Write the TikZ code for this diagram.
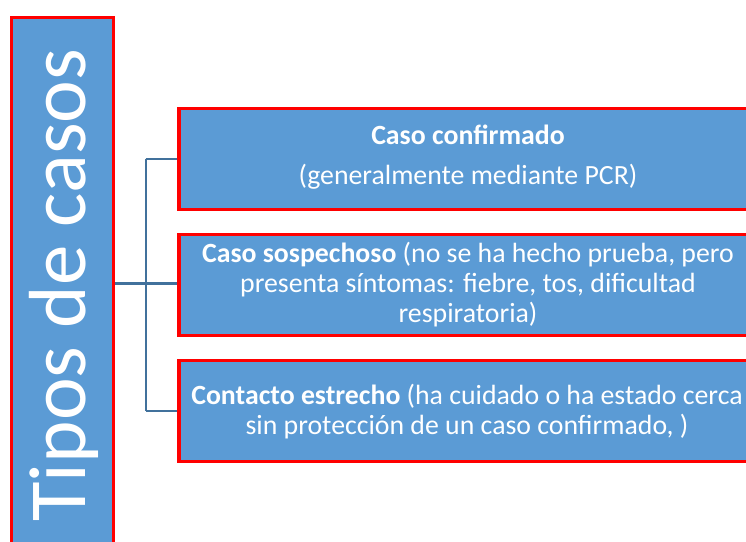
\documentclass[tikz,border=0pt]{standalone}
\usepackage{fontspec}
\setmainfont{Carlito}
\definecolor{boxblue}{RGB}{91,155,213}
\definecolor{linkblue}{RGB}{65,113,156}
\definecolor{bordred}{RGB}{255,0,0}
\begin{document}
\begin{tikzpicture}[x=1pt,y=-1pt,
  casebox/.style={draw=bordred,line width=3pt,fill=boxblue,rectangle,inner sep=0pt},
  linetext/.style={text=white,anchor=base,inner sep=0pt,font=\fontsize{27.8}{30}\selectfont},
  link/.style={draw=linkblue,line width=2.4pt}]
\useasboundingbox (0,0) rectangle (746,541);
\clip (0,0) rectangle (746,541);
\fill[white] (0,0) rectangle (746,541);
% left title box
\path[casebox] (11,17.3) rectangle (113,620);
\node[anchor=base,rotate=90,text=white,inner sep=0pt,font=\fontsize{81}{90}\selectfont] (title) at (85,285) {Tipos de casos};
% case boxes
\node[casebox,minimum width=620pt,minimum height=101pt,anchor=north west] (box1) at (178.3,107) {};
\node[casebox,minimum width=620pt,minimum height=101pt,anchor=north west] (box2) at (178.3,233) {};
\node[casebox,minimum width=620pt,minimum height=101pt,anchor=north west] (box3) at (178.3,359) {};
\coordinate (leftedge) at (113,283.5);
% texts
\node[linetext] (t11) at (468,144) {\textbf{Caso confirmado}};
\node[linetext] (t12) at (468,184) {(generalmente mediante PCR)};
\node[linetext] (t21) at (468,262) {\textbf{Caso sospechoso} (no se ha hecho prueba, pero};
\node[linetext] (t22) at (468,292) {presenta síntomas: fiebre, tos, dificultad};
\node[linetext] (t23) at (468,322) {respiratoria)};
\node[linetext] (t31) at (467,404) {\textbf{Contacto estrecho} (ha cuidado o ha estado cerca};
\node[linetext] (t32) at (467,434) {sin protección de un caso confirmado, )};
% connectors
\coordinate (bus) at (145.7,283.5);
\draw[link] (leftedge) -- (leftedge -| box2.west);
\draw[link] (bus |- box1.west) -- (bus |- box3.west);
\draw[link] (bus |- box1.west) -- (box1.west);
\draw[link] (bus |- box3.west) -- (box3.west);
% redraw borders over connector ends
\draw[draw=bordred,line width=3pt] (box1.north west) -- (box1.south west);
\draw[draw=bordred,line width=3pt] (box2.north west) -- (box2.south west);
\draw[draw=bordred,line width=3pt] (box3.north west) -- (box3.south west);
\draw[draw=bordred,line width=3pt] (113,17.3) -- (113,620);
\end{tikzpicture}
\end{document}
